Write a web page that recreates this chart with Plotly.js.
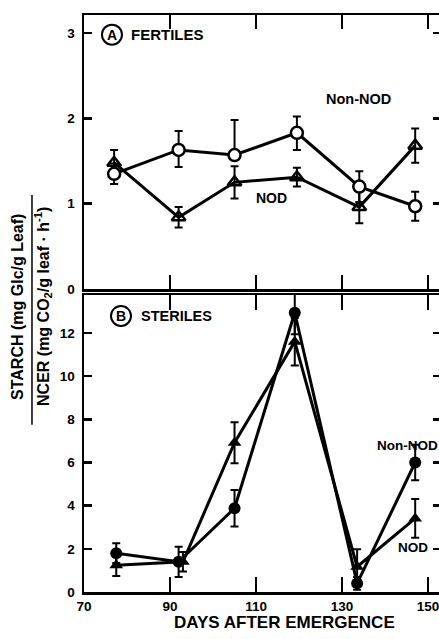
<!DOCTYPE html>
<html>
<head>
<meta charset="utf-8">
<script src="https://cdn.plot.ly/plotly-3.0.1.min.js"></script>
<style>html,body{margin:0;padding:0;overflow:hidden;background:#fff;}</style>
</head>
<body>
<div id="chart" style="width:442px;height:639px;"></div>
<script>
// Panel A: Fertiles
const daysA = [77, 92, 105, 119.5, 134, 147];
const fertNonNod = [1.35, 1.63, 1.57, 1.83, 1.2, 0.97];
const fertNonNodErrPlus = [0.12, 0.22, 0.41, 0.19, 0.18, 0.17];
const fertNonNodErrMinus = [0.12, 0.2, 0, 0.2, 0.18, 0.17];
const fertNod = [1.48, 0.84, 1.25, 1.31, 0.96, 1.68];
const fertNodErr = [0.15, 0.12, 0.19, 0.11, 0.19, 0.2];

// Panel B: Steriles
const daysBNonNod = [77.5, 92, 105, 119, 133.5, 147];
const daysBNod = [77.5, 93, 105, 119, 133.5, 147];
const sterNonNod = [1.8, 1.4, 3.88, 12.94, 0.4, 6.0];
const sterNonNodErr = [0.46, 0.7, 0.85, 1.0, 0.3, 0.82];
const sterNod = [1.24, 1.4, 6.92, 11.6, 1.17, 3.41];
const sterNodErr = [0.5, 0.45, 0.95, 1.1, 0.81, 0.9];

const xTicks = [70, 90, 110, 130, 150];
const yTicksA = [0, 1, 2, 3];
const yTicksB = [0, 2, 4, 6, 8, 10, 12];

const FONT = 'Liberation Sans, Arial, sans-serif';
const lineW = 3;

function errBar(plus, minus) {
  const e = {type: 'data', array: plus, visible: true, color: '#000', thickness: 2, width: 4};
  if (minus) { e.symmetric = false; e.arrayminus = minus; }
  return e;
}

const traces = [
  {x: daysA, y: fertNod, xaxis: 'x', yaxis: 'y', mode: 'lines+markers', name: 'NOD',
   line: {color: '#000', width: lineW},
   marker: {symbol: 'triangle-up-open', size: 12, color: '#000', line: {width: 2.5, color: '#000'}},
   error_y: errBar(fertNodErr)},
  {x: daysA, y: fertNonNod, xaxis: 'x', yaxis: 'y', mode: 'lines+markers', name: 'Non-NOD',
   line: {color: '#000', width: lineW},
   marker: {symbol: 'circle', size: 12, color: '#fff', line: {width: 2.5, color: '#000'}},
   error_y: errBar(fertNonNodErrPlus, fertNonNodErrMinus)},
  {x: daysBNod, y: sterNod, xaxis: 'x2', yaxis: 'y2', mode: 'lines+markers', name: 'NOD',
   line: {color: '#000', width: lineW},
   marker: {symbol: 'triangle-up', size: 12, color: '#000'},
   error_y: errBar(sterNodErr)},
  {x: daysBNonNod, y: sterNonNod, xaxis: 'x2', yaxis: 'y2', mode: 'lines+markers', name: 'Non-NOD',
   line: {color: '#000', width: lineW},
   marker: {symbol: 'circle', size: 12, color: '#000'},
   error_y: errBar(sterNonNodErr)}
];

const axCommon = {
  showline: true, linecolor: '#000', linewidth: 2.5, mirror: 'ticks',
  ticks: 'inside', tickcolor: '#000', tickwidth: 2.5,
  showgrid: false, zeroline: false, fixedrange: true,
  tickfont: {family: FONT, size: 13.5, color: '#000', weight: 'bold'}
};

function pa(x, y, text, size, angle) {
  return {xref: 'paper', yref: 'paper', x: x, y: y, xanchor: 'center', yanchor: 'middle',
          text: text, showarrow: false, textangle: angle || 0, font: {size: size, weight: 'bold'}};
}
function da(xr, yr, x, y, text, size) {
  return {xref: xr, yref: yr, x: x, y: y, xanchor: 'center', yanchor: 'middle',
          text: text, showarrow: false, font: {size: size, weight: 'bold'}};
}

const layout = {
  width: 442, height: 639,
  margin: {l: 84, r: 1, t: 15, b: 47},
  paper_bgcolor: '#fff', plot_bgcolor: '#fff',
  showlegend: false,
  font: {family: FONT, color: '#000'},
  xaxis: Object.assign({}, axCommon, {domain: [0, 1], anchor: 'y', range: [70, 153], tickvals: xTicks, showticklabels: false, ticklen: 14}),
  yaxis: Object.assign({}, axCommon, {domain: [0.525, 1], anchor: 'x', range: [0, 3.21], tickvals: yTicksA, ticklen: 8, ticklabelstandoff: 4}),
  xaxis2: Object.assign({}, axCommon, {domain: [0, 1], anchor: 'y2', range: [70, 153], tickvals: xTicks, ticklen: 15}),
  yaxis2: Object.assign({}, axCommon, {domain: [0, 0.5147], anchor: 'x2', range: [0, 13.76], tickvals: yTicksB, ticklen: 8, ticklabelstandoff: 4}),
  shapes: [
    {type: 'circle', xref: 'x', yref: 'y', xsizemode: 'pixel', ysizemode: 'pixel',
     xanchor: 76.5, yanchor: 2.98, x0: -10, x1: 10, y0: -10, y1: 10, line: {color: '#000', width: 2}},
    {type: 'circle', xref: 'x2', yref: 'y2', xsizemode: 'pixel', ysizemode: 'pixel',
     xanchor: 78.6, yanchor: 12.79, x0: -10, x1: 10, y0: -10, y1: 10, line: {color: '#000', width: 2}},
    {type: 'line', xref: 'paper', yref: 'paper', x0: -0.1457, x1: -0.1457, y0: 0.29, y1: 0.688,
     line: {color: '#000', width: 1.5}}
  ],
  annotations: [
    da('x', 'y', 76.5, 2.98, 'A', 14),
    da('x', 'y', 89.3, 2.98, 'FERTILES', 15),
    da('x2', 'y2', 78.6, 12.79, 'B', 14),
    da('x2', 'y2', 91.6, 12.79, 'STERILES', 14.5),
    da('x', 'y', 133.8, 2.23, 'Non-NOD', 14.5),
    da('x', 'y', 113.7, 1.07, 'NOD', 14),
    da('x2', 'y2', 145.2, 6.81, 'Non-NOD', 13.5),
    da('x2', 'y2', 146.6, 2.08, 'NOD', 13.5),
    pa(-0.1849, 0.494, 'STARCH (mg Glc/g Leaf)', 16, -90),
    pa(-0.1148, 0.494, 'NCER (mg CO<sub>2</sub>/g leaf \u00b7 h<sup>-1</sup>)', 16, -90),
    pa(0.563, -0.0537, 'DAYS AFTER EMERGENCE', 17)
  ]
};

Plotly.newPlot('chart', traces, layout, {displayModeBar: false, staticPlot: true});
</script>
</body>
</html>
